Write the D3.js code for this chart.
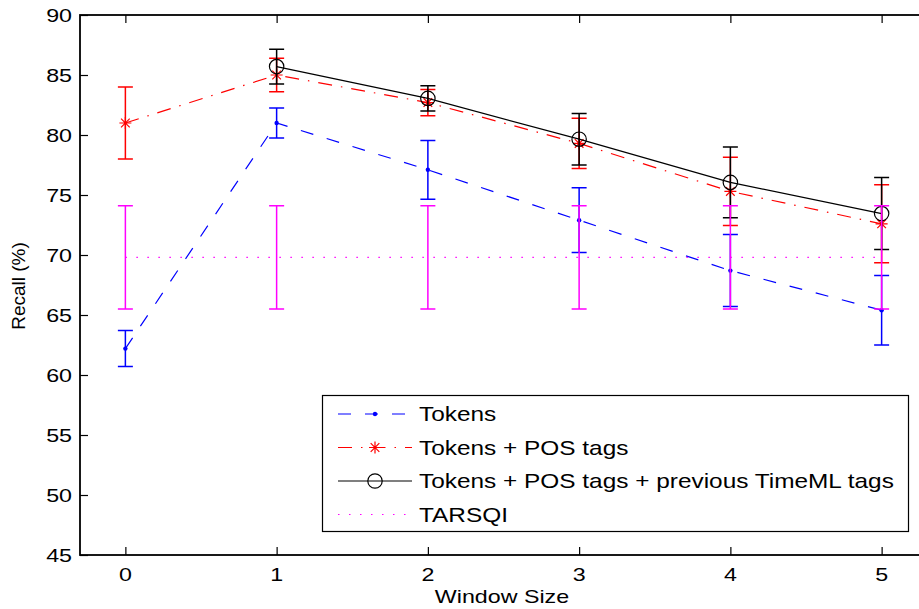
<!DOCTYPE html>
<html>
<head>
<meta charset="utf-8">
<script src="https://cdn.jsdelivr.net/npm/d3@7"></script>
<style>
  html, body { margin: 0; padding: 0; background: #fff; }
  svg { display: block; font-family: "Liberation Sans", Arial, Helvetica, sans-serif; }
</style>
</head>
<body>
<svg id="chart"></svg>
<script>
// window sizes on the x axis
const windowSizes = [0, 1, 2, 3, 4, 5];

// Tokens
const tokensMean = [62.2, 81.0, 77.1, 72.9, 68.7, 65.4];
const tokensErr = [1.5, 1.25, 2.45, 2.7, 3.0, 2.9];

// Tokens + POS tags
const posMean = [81.0, 85.0, 82.7, 79.3, 75.3, 72.6];
const posErr = [3.0, 1.4, 1.1, 2.1, 2.85, 3.25];

// Tokens + POS tags + previous TimeML tags (no window size 0)
const timemlX = [1, 2, 3, 4, 5];
const timemlMean = [85.7, 83.05, 79.65, 76.05, 73.45];
const timemlErr = [1.45, 1.05, 2.15, 2.95, 3.0];

// TARSQI baseline
const tarsqiMean = [69.8, 69.8, 69.8, 69.8, 69.8, 69.8];
const tarsqiErr = [4.3, 4.3, 4.3, 4.3, 4.3, 4.3];

const yTicks = [45, 50, 55, 60, 65, 70, 75, 80, 85, 90];
const legendLabels = ["Tokens", "Tokens + POS tags", "Tokens + POS tags + previous TimeML tags", "TARSQI"];

const W = 919, H = 609;
const stretch = 1.25; // text in the original is a bit wide

const svg = d3.select("#chart").attr("width", W).attr("height", H);

const x = d3.scaleLinear().domain([-0.3, 5.3]).range([80, 927]);
const y = d3.scaleLinear().domain([45, 90]).range([555, 15]);

const series = [
  { name: legendLabels[0], xs: windowSizes, mean: tokensMean, err: tokensErr, color: "#0000ff", dash: "13,14", marker: "dot" },
  { name: legendLabels[1], xs: windowSizes, mean: posMean, err: posErr, color: "#ff0000", dash: "14,9,1.5,9", marker: "star" },
  { name: legendLabels[2], xs: timemlX, mean: timemlMean, err: timemlErr, color: "#000000", dash: null, marker: "circle" },
  { name: legendLabels[3], xs: windowSizes, mean: tarsqiMean, err: tarsqiErr, color: "#ff00ff", dash: "1.5,9.5", marker: null }
];

function drawMarker(g, type, cx, cy, color) {
  if (type === "dot") {
    g.append("circle").attr("cx", cx).attr("cy", cy).attr("r", 2.2).attr("fill", color);
  } else if (type === "star") {
    const r = 6;
    const d = r * 0.72;
    g.append("path")
      .attr("d", `M${cx - r},${cy}H${cx + r}M${cx},${cy - r}V${cy + r}` +
        `M${cx - d},${cy - d}L${cx + d},${cy + d}M${cx - d},${cy + d}L${cx + d},${cy - d}`)
      .attr("stroke", color).attr("stroke-width", 1.2).attr("fill", "none");
  } else if (type === "circle") {
    g.append("circle").attr("cx", cx).attr("cy", cy).attr("r", 7.2)
      .attr("fill", "none").attr("stroke", color).attr("stroke-width", 1.2);
  }
}

const plot = svg.append("g");
const cap = 7.5;

series.forEach(s => {
  const g = plot.append("g");
  const pts = s.xs.map((xv, i) => ({ x: xv, m: s.mean[i], e: s.err[i] }));

  // error bars
  pts.forEach(p => {
    const px = x(p.x), top = y(p.m + p.e), bot = y(p.m - p.e);
    g.append("path")
      .attr("d", `M${px},${top}V${bot}M${px - cap},${top}H${px + cap}M${px - cap},${bot}H${px + cap}`)
      .attr("stroke", s.color).attr("stroke-width", 1.5).attr("fill", "none");
  });

  const line = d3.line().x(p => x(p.x)).y(p => y(p.m));
  g.append("path")
    .datum(pts)
    .attr("d", line)
    .attr("fill", "none")
    .attr("stroke", s.color)
    .attr("stroke-width", 1.2)
    .attr("stroke-dasharray", s.dash);

  if (s.marker) pts.forEach(p => drawMarker(g, s.marker, x(p.x), y(p.m), s.color));
});

// axes with inward ticks on all four sides
const axisG = svg.append("g");
axisG.append("g").attr("transform", "translate(80,0)")
  .call(d3.axisLeft(y).tickValues(yTicks).tickSize(-8).tickFormat(""));
axisG.append("g").attr("transform", "translate(927,0)")
  .call(d3.axisRight(y).tickValues(yTicks).tickSize(-8).tickFormat(""));
axisG.append("g").attr("transform", "translate(0,555)")
  .call(d3.axisBottom(x).tickValues(windowSizes).tickSize(-8).tickFormat(""));
axisG.append("g").attr("transform", "translate(0,15)")
  .call(d3.axisTop(x).tickValues(windowSizes).tickSize(-8).tickFormat(""));
axisG.selectAll(".tick line").attr("stroke", "#000").attr("stroke-width", 1.2);
// plain frame instead of the axis domain paths
axisG.selectAll("path.domain").remove();
axisG.append("rect")
  .attr("x", 80).attr("y", 15).attr("width", 927 - 80).attr("height", 540)
  .attr("fill", "none").attr("stroke", "#000").attr("stroke-width", 1.8);

// tick labels
const labels = svg.append("g").attr("font-size", 18.6).attr("fill", "#000");
yTicks.forEach(v => {
  labels.append("text")
    .attr("text-anchor", "end")
    .attr("transform", `translate(72,${y(v) + 6.7}) scale(${stretch},1)`)
    .text(v);
});
windowSizes.forEach(v => {
  labels.append("text")
    .attr("text-anchor", "middle")
    .attr("transform", `translate(${x(v)},581) scale(${stretch},1)`)
    .text(v);
});

// axis titles
svg.append("text")
  .attr("font-size", 18.6)
  .attr("text-anchor", "middle")
  .attr("transform", `translate(502,603) scale(${stretch},1)`)
  .text("Window Size");
svg.append("text")
  .attr("font-size", 19)
  .attr("text-anchor", "middle")
  .attr("transform", "translate(25,286) rotate(-90)")
  .text("Recall (%)");

// legend
const legend = svg.append("g");
legend.append("rect")
  .attr("x", 322.5).attr("y", 395.5).attr("width", 586).attr("height", 136)
  .attr("fill", "#fff").attr("stroke", "#000").attr("stroke-width", 1.2);

series.forEach((s, i) => {
  const ly = 414 + i * 33.5;
  legend.append("line")
    .attr("x1", 338).attr("x2", 412).attr("y1", ly).attr("y2", ly)
    .attr("stroke", s.color).attr("stroke-width", 1.2)
    .attr("stroke-dasharray", s.dash);
  if (s.marker) drawMarker(legend, s.marker, 375, ly, s.color);
  legend.append("text")
    .attr("font-size", 20)
    .attr("transform", `translate(419,${ly + 7}) scale(1.22,1)`)
    .text(s.name);
});
</script>
</body>
</html>
